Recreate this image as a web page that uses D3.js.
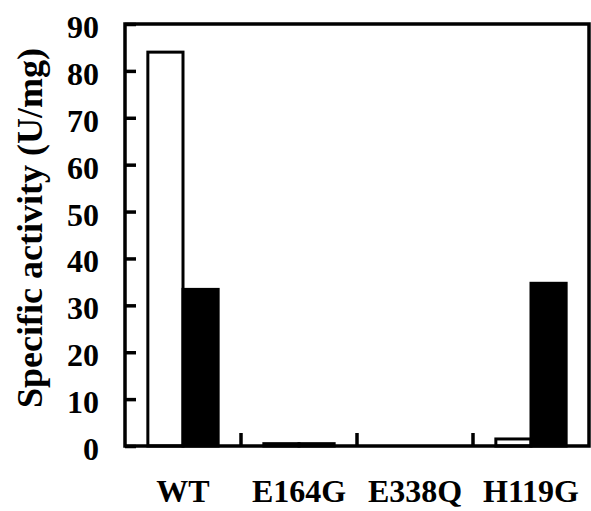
<!DOCTYPE html>
<html>
<head>
<meta charset="utf-8">
<script src="https://cdn.jsdelivr.net/npm/d3@7"></script>
<style>
  html, body { margin: 0; padding: 0; background: #fff; }
  text { font-family: "Liberation Serif", "Times New Roman", serif; font-weight: bold; }
</style>
</head>
<body>
<script>
const categories = ["WT", "E164G", "E338Q", "H119G"];
const series = ["open", "filled"];
const openValues = [84, 0.5, 0, 1.5];
const filledValues = [33.4, 0.5, 0, 34.7];
const yTicks = [0, 10, 20, 30, 40, 50, 60, 70, 80, 90];

const width = 591, height = 511;
const margin = { top: 24, right: 2, bottom: 65, left: 125 };

const svg = d3.select("body").append("svg")
  .attr("width", width)
  .attr("height", height);

const x = d3.scaleBand()
  .domain(categories)
  .range([margin.left, width - margin.right])
  .padding(0);

const x1 = d3.scaleBand()
  .domain(series)
  .range([0, x.bandwidth()])
  .paddingInner(0)
  .paddingOuter(0.65);

const y = d3.scaleLinear()
  .domain([0, 90])
  .range([height - margin.bottom, margin.top]);

const rows = categories.map((c, i) => ({ cat: c, open: openValues[i], filled: filledValues[i] }));

// bars
const group = svg.append("g").selectAll("g")
  .data(rows)
  .join("g")
  .attr("transform", d => `translate(${x(d.cat)},0)`);

group.selectAll("rect")
  .data(d => series.map(s => ({ key: s, value: d[s] })).filter(d => d.value > 0))
  .join("rect")
  .attr("x", d => x1(d.key))
  .attr("width", x1.bandwidth())
  .attr("y", d => y(d.value))
  .attr("height", d => y(0) - y(d.value))
  .attr("fill", d => d.key === "filled" ? "#000" : "#fff")
  .attr("stroke", "#000")
  .attr("stroke-width", 3);

// y axis, ticks pointing inward
const yAxis = svg.append("g")
  .attr("transform", `translate(${margin.left},0)`)
  .call(d3.axisLeft(y).tickValues(yTicks).tickSizeInner(-11).tickSizeOuter(0).tickPadding(26));
yAxis.select(".domain").remove();
yAxis.selectAll(".tick line").attr("stroke-width", 3.5);
yAxis.selectAll(".tick text")
  .attr("font-size", 32)
  .attr("dy", "0.42em")
  .attr("fill", "#000");

// x axis: ticks at category boundaries, labels under centers
const xAxis = svg.append("g")
  .attr("transform", `translate(0,${y(0)})`);
xAxis.selectAll("line")
  .data(categories.slice(1))
  .join("line")
  .attr("x1", d => x(d))
  .attr("x2", d => x(d))
  .attr("y1", 0)
  .attr("y2", -13)
  .attr("stroke", "#000")
  .attr("stroke-width", 3.5);
xAxis.selectAll("text")
  .data(categories)
  .join("text")
  .attr("x", d => x(d) + x.bandwidth() / 2)
  .attr("y", 56)
  .attr("text-anchor", "middle")
  .attr("font-size", 32)
  .text(d => d);

// frame
svg.append("rect")
  .attr("x", margin.left)
  .attr("y", margin.top)
  .attr("width", width - margin.right - margin.left)
  .attr("height", y(0) - margin.top)
  .attr("fill", "none")
  .attr("stroke", "#000")
  .attr("stroke-width", 3.5);

// y title
svg.append("text")
  .attr("transform", `translate(42,${(margin.top + y(0)) / 2 - 7}) rotate(-90)`)
  .attr("text-anchor", "middle")
  .attr("font-size", 36)
  .text("Specific activity (U/mg)");
</script>
</body>
</html>
